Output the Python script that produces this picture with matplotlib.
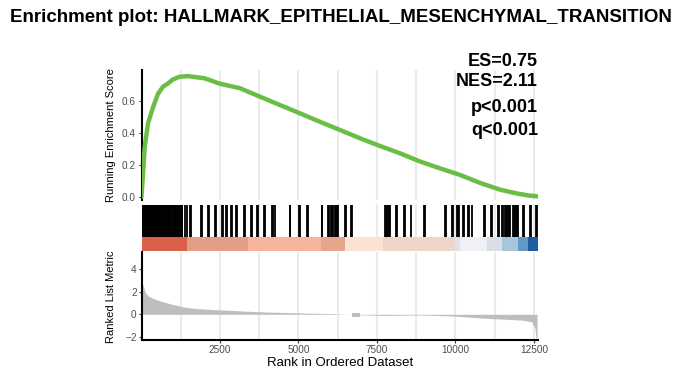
import matplotlib
matplotlib.use("Agg")
import matplotlib.pyplot as plt

plt.rcParams['font.family'] = ['Liberation Sans', 'DejaVu Sans']

# ---------------- data ----------------
title = "Enrichment plot: HALLMARK_EPITHELIAL_MESENCHYMAL_TRANSITION"
stats_text = ["ES=0.75", "NES=2.11", "p<0.001", "q<0.001"]

n_genes = 12630

# running enrichment score
es_rank = [0, 40, 101, 207, 366, 525, 685, 844, 1003, 1216, 1481, 2012, 2500,
           3137, 3774, 4411, 5048, 5685, 6322, 6959, 7596, 8233, 8870, 9507,
           10144, 10781, 11418, 11950, 12300, 12600]
es_value = [0.0, 0.12, 0.31, 0.46, 0.56, 0.645, 0.69, 0.71, 0.735, 0.752, 0.756,
            0.742, 0.708, 0.68, 0.627, 0.575, 0.523, 0.47, 0.419, 0.367, 0.319,
            0.273, 0.222, 0.179, 0.138, 0.088, 0.046, 0.022, 0.010, 0.004]

# positions of gene-set members in the ranked list
hits = [3, 18, 35, 52, 70, 88, 105, 122, 140, 160, 178, 197, 215, 236, 255, 276,
        298, 320, 342, 365, 388, 410, 435, 460, 485, 510, 535, 560, 588, 615,
        642, 670, 698, 725, 752, 780, 808, 835, 862, 890, 918, 946, 975, 1003,
        1030, 1058, 1085, 1112, 1140, 1168, 1195, 1222, 1250, 1278, 1305,
        1400, 1435, 1560, 1590, 1890, 1925, 2105, 2135, 2335, 2360, 2570, 2600,
        2690, 2720, 2840, 2870, 3015, 3045, 3260, 3290, 3480, 3515, 3685, 3710,
        3900, 3930, 4165, 4195, 4252, 4715, 4745, 5015, 5040, 5265, 5290,
        5740, 5765, 5940, 5965, 6030, 6070, 6110, 6150, 6190, 6230, 6270,
        6485, 6510, 6665, 6690, 7745, 7775, 7810, 7845, 7880, 7915, 8105, 8130,
        8365, 8390, 8570, 9000, 9025, 9670, 9695, 9905, 9930, 10040, 10075,
        10110, 10240, 10265, 10400, 10425, 10535, 10920, 10945, 11140, 11165,
        11355, 11380, 11495, 11530, 11565, 11600, 11635, 11670, 11705, 11735,
        11830, 11865, 11900, 11935, 11970, 12000, 12150, 12175, 12370, 12400,
        12565, 12590]

# colour bar segments along the ranked list
cb_start = [0, 1455, 3400, 5720, 6480, 7700, 9987, 10143, 10995, 11480, 12000, 12310]
cb_end = [1455, 3400, 5720, 6480, 7700, 9987, 10143, 10995, 11480, 12000, 12310, 12630]
cb_color = ['#DA6049', '#E39D85', '#F4B59C', '#E6A68E', '#FBE2D5', '#EDD5CA',
            '#DDE1E8', '#EFF1F6', '#D9DEE6', '#A8C6DA', '#6399C6', '#1E5DA2']

# ranked list metric
metric_rank = [0, 57, 111, 217, 376, 694, 1013, 1331, 1758, 2287, 2819, 3350,
               3990, 5048, 6100, 6500, 6700, 7700, 8870, 9920, 10994, 12055,
               12427, 12532, 12565, 12600]
metric_value = [2.57, 2.57, 1.97, 1.62, 1.39, 1.09, 0.86, 0.65, 0.50, 0.42, 0.35,
                0.27, 0.20, 0.12, 0.06, 0.0, -0.02, -0.10, -0.06, -0.15, -0.36,
                -0.50, -0.65, -1.24, -2.10, -2.10]
block_rank = [6715, 6960]
block_low = [-0.22, -0.22]
block_high = [0.14, 0.14]

x_ticks = [2500, 5000, 7500, 10000, 12500]
grid_x = [1250, 2500, 3750, 5000, 6250, 7500, 8750, 10000, 11250, 12500]
es_ticks = [0.0, 0.2, 0.4, 0.6]
metric_ticks = [-2, 0, 2, 4]

# ---------------- layout ----------------
W, H = 687, 376
fig = plt.figure(figsize=(W / 100, H / 100), dpi=100)


def rect(x0, y0, x1, y1):
    return [x0 / W, 1 - y1 / H, (x1 - x0) / W, (y1 - y0) / H]


green = '#6BBE45'
grid_col = '#EBEBEB'
tick_col = '#333333'
lab_col = '#4D4D4D'

ax_top = fig.add_axes(rect(141.5, 70, 538, 200))
ax_mid = fig.add_axes(rect(141.5, 204, 538, 251))
ax_bot = fig.add_axes(rect(141.5, 252, 538, 340))

for ax in (ax_top, ax_mid, ax_bot):
    ax.set_xlim(0, n_genes)
    ax.set_facecolor('none')
    for gx in grid_x:
        ax.axvline(gx, color=grid_col, lw=1.5, zorder=0)
    for s in ('top', 'right'):
        ax.spines[s].set_visible(False)

# top panel
ax_top.plot(es_rank, es_value, color=green, lw=3.2, solid_joinstyle='round',
            solid_capstyle='round', zorder=3)
ax_top.set_ylim(-0.019, 0.794)
ax_top.spines['bottom'].set_visible(False)
ax_top.spines['left'].set_linewidth(1.5)
ax_top.spines['left'].set_color('black')
ax_top.set_yticks(es_ticks)
ax_top.set_yticklabels([f"{v:.1f}" for v in es_ticks])
ax_top.tick_params(axis='x', bottom=False, labelbottom=False)
ax_top.tick_params(axis='y', length=2.5, width=0.8, color=tick_col,
                   labelsize=7.2, labelcolor=lab_col, pad=1.5)

# middle panel (hits + colour bar)
cb_top = (251 - 237) / 47
hit_top = (251 - 205) / 47
ax_mid.set_ylim(0, 1)
ax_mid.vlines(hits, cb_top, hit_top, color='black', lw=1.3, zorder=2)
for s, e, c in zip(cb_start, cb_end, cb_color):
    ax_mid.axvspan(s, e, ymin=0, ymax=cb_top, color=c, lw=0, zorder=3)
for s in ('left', 'bottom'):
    ax_mid.spines[s].set_visible(False)
ax_mid.set_xticks([])
ax_mid.set_yticks([])

# bottom panel
ax_bot.fill_between(metric_rank, metric_value, 0, color='#BEBEBE', lw=0, zorder=2)
ax_bot.fill_between(block_rank, block_low, block_high, color='#BEBEBE', lw=0, zorder=2)
ax_bot.set_ylim(-2.27, 5.5)
for s in ('left', 'bottom'):
    ax_bot.spines[s].set_linewidth(1.5)
    ax_bot.spines[s].set_color('black')
ax_bot.set_yticks(metric_ticks)
ax_bot.set_xticks(x_ticks)
ax_bot.set_xticklabels([str(t) for t in x_ticks])
ax_bot.tick_params(length=2.5, width=0.8, color=tick_col, labelsize=7.2,
                   labelcolor=lab_col, pad=1.0)

# texts
fig.text(10 / W, 1 - 17 / H, title, ha='left', va='center',
         fontsize=13.5, fontweight='bold')
ys = [62, 81, 107, 131]
for t, y in zip(stats_text, ys):
    fig.text(538 / W, 1 - y / H, t, ha='right', va='center',
             fontsize=13, fontweight='bold')
fig.text(111 / W, 1 - 135 / H, "Running Enrichment Score", rotation=90,
         ha='center', va='center', fontsize=8)
fig.text(111 / W, 1 - 297 / H, "Ranked List Metric", rotation=90,
         ha='center', va='center', fontsize=8)
fig.text(340 / W, 1 - 363 / H, "Rank in Ordered Dataset", ha='center',
         va='center', fontsize=9.5)

fig.savefig("out.png", dpi=100)
